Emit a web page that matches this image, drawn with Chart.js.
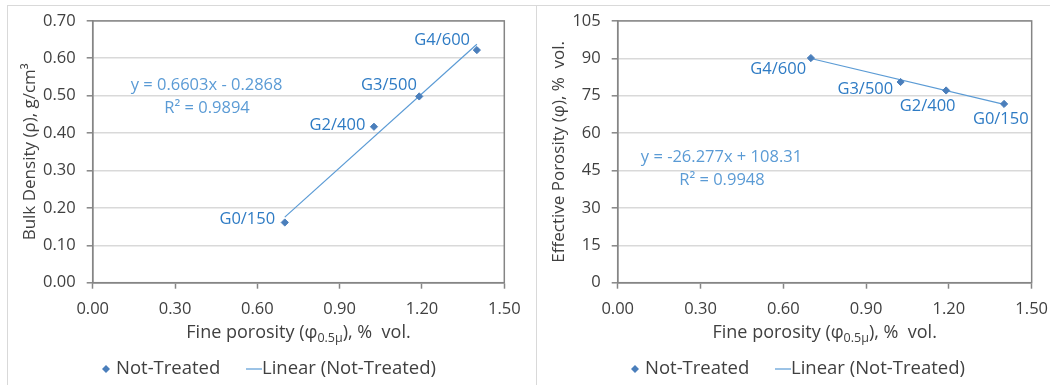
<!DOCTYPE html>
<html>
<head>
<meta charset="utf-8">
<script src="https://cdn.jsdelivr.net/npm/chart.js@4.4.1/dist/chart.umd.min.js"></script>
<style>
  html, body { margin: 0; padding: 0; background: #ffffff; }
  #wrap { position: relative; width: 1059px; height: 385px; overflow: hidden; background: #fff; }
  .panel { position: absolute; top: 0; height: 385px; }
  .panel canvas { position: absolute; left: 0; top: 0; }
  .rule { position: absolute; background: #d9d9d9; }
</style>
</head>
<body>
<div id="wrap">
  <div class="panel" style="left:0;width:536px"><canvas id="densityChart" width="536" height="385"></canvas></div>
  <div class="panel" style="left:536px;width:523px"><canvas id="porosityChart" width="523" height="385"></canvas></div>
  <div class="rule" style="left:7px;top:5px;width:1043px;height:1px"></div>
  <div class="rule" style="left:7px;top:5px;width:1px;height:380px"></div>
  <div class="rule" style="left:536px;top:5px;width:1px;height:380px"></div>
</div>
<script>
// ---- data ----
const xTickValues = [0.00, 0.30, 0.60, 0.90, 1.20, 1.50];

// Bulk density vs fine porosity
const densitySamples = ['G0/150', 'G2/400', 'G3/500', 'G4/600'];
const densityFinePorosity = [0.70, 1.025, 1.19, 1.40];
const bulkDensity = [0.161, 0.417, 0.498, 0.622];
const densityYTicks = [0.00, 0.10, 0.20, 0.30, 0.40, 0.50, 0.60, 0.70];
const densityFit = [0.6603, -0.2868, 0.9894];   // slope, intercept, R²

// Effective porosity vs fine porosity
const porositySamples = ['G4/600', 'G3/500', 'G2/400', 'G0/150'];
const porosityFinePorosity = [0.70, 1.025, 1.19, 1.40];
const effectivePorosity = [90.1, 80.5, 77.1, 71.7];
const porosityYTicks = [0, 15, 30, 45, 60, 75, 90, 105];
const porosityFit = [-26.277, 108.31, 0.9948];

const seriesName = 'Not-Treated';
const fitName = 'Linear (Not-Treated)';

// ---- styling ----
const FONT = "'Open Sans', 'Noto Sans', sans-serif";
const TEXT = '#404040';
const AXIS = '#858585';
const GRID = '#d9d9d9';
const MARKER = '#4a7ebb';
const FITLINE = '#5b9bd5';
const LABEL = '#2e7bc4';
const EQ = '#5b9bd5';
const FS = 16.5;        // tick labels, point labels, equation
const TITLE_FS = 18;    // axis titles
const LEGEND_FS = 18.5; // legend

function fmtEq(slope, intercept) {
  const s = 'y = ' + slope + 'x';
  return intercept < 0 ? s + ' - ' + Math.abs(intercept) : s + ' + ' + intercept;
}

// draws point labels, fit equation, axis titles, plot frame and legend
const decorations = {
  id: 'decorations',
  afterDraw(chart, args, o) {
    const ctx = chart.ctx;
    const a = chart.chartArea;
    const xs = chart.scales.x, ys = chart.scales.y;
    ctx.save();

    // plot frame
    ctx.strokeStyle = AXIS;
    ctx.lineWidth = 1.5;
    ctx.strokeRect(a.left, a.top, a.right - a.left, a.bottom - a.top);

    // point labels
    ctx.font = FS + 'px ' + FONT;
    ctx.fillStyle = LABEL;
    ctx.textAlign = 'center';
    ctx.textBaseline = 'middle';
    const meta = chart.getDatasetMeta(0);
    meta.data.forEach((pt, i) => {
      const off = o.labelOffsets[i];
      ctx.fillText(o.labels[i], pt.x + off[0], pt.y + off[1]);
    });

    // regression equation
    ctx.fillStyle = EQ;
    const ex = xs.getPixelForValue(o.eqAt[0]);
    const ey = ys.getPixelForValue(o.eqAt[1]);
    ctx.fillText(fmtEq(o.fit[0], o.fit[1]), ex, ey);
    ctx.fillText('R² = ' + o.fit[2], ex + o.r2Shift, ey + 23);

    // x-axis title with subscript
    ctx.fillStyle = TEXT;
    ctx.textAlign = 'left';
    const main = TITLE_FS + 'px ' + FONT;
    const sub = '12.5px ' + FONT;
    const parts = [['Fine porosity (φ', main, 0], ['0.5μ', sub, 5], ['), %  vol.', main, 0]];
    let total = 0;
    parts.forEach(p => { ctx.font = p[1]; total += ctx.measureText(p[0]).width; });
    let tx = (a.left + a.right) / 2 - total / 2;
    const ty = 333;
    parts.forEach(p => {
      ctx.font = p[1];
      ctx.fillText(p[0], tx, ty + p[2]);
      tx += ctx.measureText(p[0]).width;
    });

    // y-axis title
    ctx.font = o.yTitleFont + 'px ' + FONT;
    ctx.textAlign = 'center';
    ctx.save();
    ctx.translate(o.yTitleX, (a.top + a.bottom) / 2);
    ctx.rotate(-Math.PI / 2);
    ctx.fillText(o.yTitle, 0, 0);
    ctx.restore();

    // legend
    ctx.font = LEGEND_FS + 'px ' + FONT;
    const lx = o.legendX, ly = 369;
    ctx.fillStyle = MARKER;
    ctx.beginPath();
    ctx.moveTo(lx, ly - 4); ctx.lineTo(lx + 4, ly); ctx.lineTo(lx, ly + 4); ctx.lineTo(lx - 4, ly);
    ctx.closePath(); ctx.fill();
    ctx.fillStyle = TEXT;
    ctx.textAlign = 'left';
    ctx.fillText(seriesName, lx + 10, ly);
    ctx.strokeStyle = FITLINE;
    ctx.lineWidth = 1.2;
    ctx.beginPath(); ctx.moveTo(lx + 140, ly); ctx.lineTo(lx + 156, ly); ctx.stroke();
    ctx.fillText(fitName, lx + 156, ly);

    ctx.restore();
  }
};

function makeChart(canvasId, cfg) {
  const points = cfg.x.map((v, i) => ({ x: v, y: cfg.y[i] }));
  const x0 = Math.min(...cfg.x), x1 = Math.max(...cfg.x);
  const fitLine = [x0, x1].map(v => ({ x: v, y: cfg.fit[0] * v + cfg.fit[1] }));
  return new Chart(document.getElementById(canvasId), {
    type: 'scatter',
    data: {
      datasets: [
        {
          label: seriesName, data: points,
          pointStyle: 'rectRot', pointRadius: 3.6, pointHoverRadius: 3.6,
          backgroundColor: MARKER, borderColor: MARKER, borderWidth: 1, order: 1
        },
        {
          type: 'line', label: fitName, data: fitLine,
          borderColor: FITLINE, borderWidth: 1.2, pointRadius: 0, fill: false, order: 2
        }
      ]
    },
    plugins: [decorations],
    options: {
      responsive: false,
      animation: false,
      events: [],
      layout: { padding: { left: 0, right: cfg.padRight, top: 20, bottom: 0 } },
      plugins: {
        legend: { display: false },
        tooltip: { enabled: false },
        decorations: {
          labels: cfg.labels, labelOffsets: cfg.labelOffsets,
          fit: cfg.fit, eqAt: cfg.eqAt, r2Shift: cfg.r2Shift,
          yTitle: cfg.yTitle, yTitleX: cfg.yTitleX, yTitleFont: cfg.yTitleFont, legendX: cfg.legendX
        }
      },
      scales: {
        x: {
          type: 'linear', min: 0, max: 1.5,
          afterBuildTicks: s => { s.ticks = xTickValues.map(v => ({ value: v })); },
          afterFit: s => { s.height = 102.3; },
          ticks: {
            callback: v => v.toFixed(2), color: TEXT, padding: 11,
            font: { family: FONT, size: FS }, maxRotation: 0, autoSkip: false
          },
          grid: { drawOnChartArea: false, drawTicks: true, tickLength: 6, tickColor: AXIS, tickWidth: 1.5 },
          border: { color: AXIS, width: 1.5 }
        },
        y: {
          type: 'linear', min: cfg.yTicks[0], max: cfg.yTicks[cfg.yTicks.length - 1],
          afterBuildTicks: s => { s.ticks = cfg.yTicks.map(v => ({ value: v })); },
          afterFit: s => { s.width = cfg.yWidth; },
          ticks: {
            callback: cfg.yFormat, color: TEXT, padding: 11,
            font: { family: FONT, size: FS }, autoSkip: false
          },
          grid: { color: GRID, lineWidth: 1.6, drawTicks: true, tickLength: 6, tickColor: AXIS, tickWidth: 1.5 },
          border: { color: AXIS, width: 1.5 }
        }
      }
    }
  });
}

makeChart('densityChart', {
  x: densityFinePorosity, y: bulkDensity, labels: densitySamples, fit: densityFit,
  yTicks: densityYTicks, yFormat: v => v.toFixed(2), yWidth: 92.7, padRight: 31.7,
  labelOffsets: [[-37.5, -3], [-36.5, -1.3], [-30.3, -10.7], [-34.7, -10]],
  eqAt: [0.415, 0.529], r2Shift: 0.5,
  yTitle: 'Bulk Density (ρ), g/cm³', yTitleX: 30, yTitleFont: 17, legendX: 106
});

makeChart('porosityChart', {
  x: porosityFinePorosity, y: effectivePorosity, labels: porositySamples, fit: porosityFit,
  yTicks: porosityYTicks, yFormat: v => String(v), yWidth: 81.7, padRight: 23.7,
  labelOffsets: [[-32.7, 11], [-35.3, 7], [-18.5, 16.3], [-3.3, 15.7]],
  eqAt: [0.376, 50.2], r2Shift: 0.5,
  yTitle: 'Effective Porosity (φ), %  vol.', yTitleX: 23, yTitleFont: 17, legendX: 99
});
</script>
</body>
</html>
